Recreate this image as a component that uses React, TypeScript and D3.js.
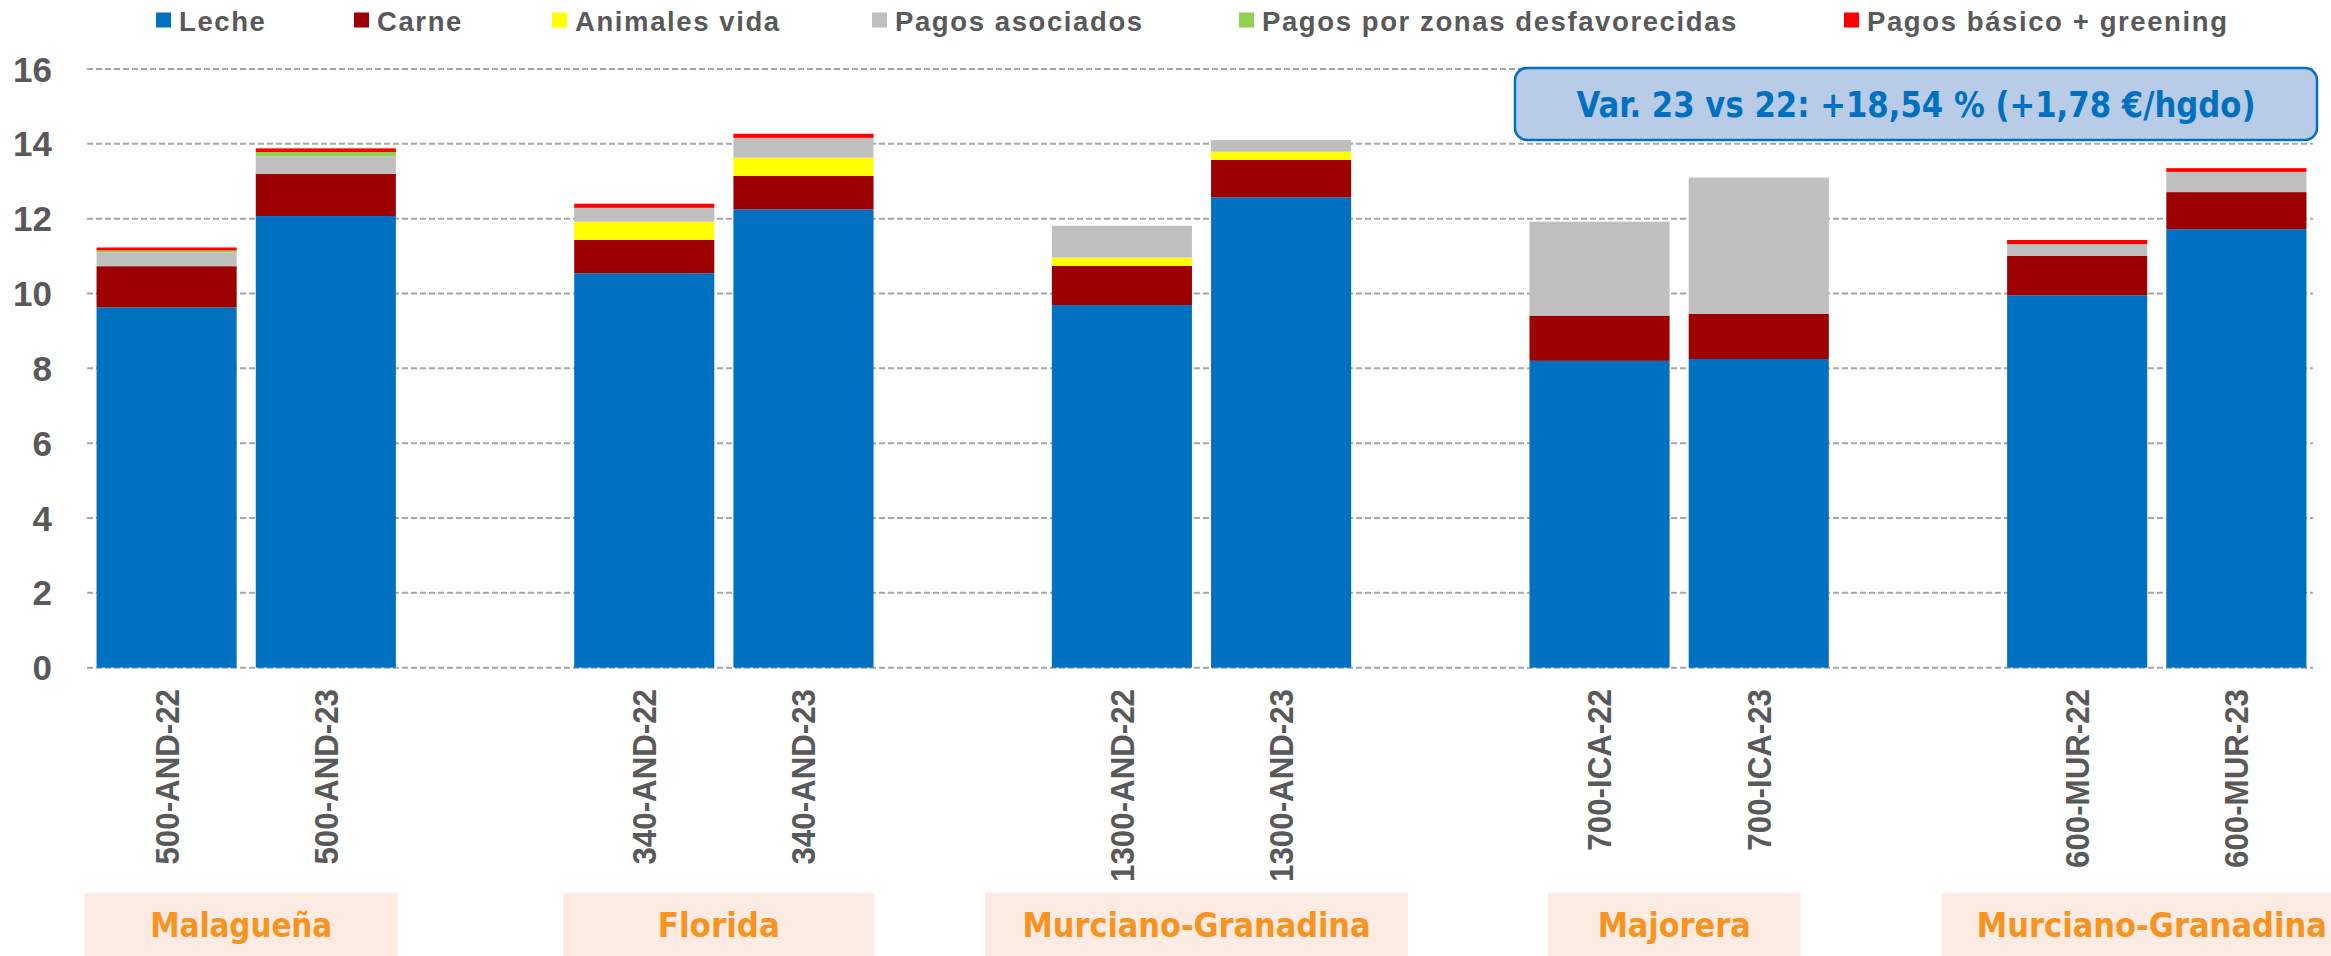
import React from "react";
import * as d3 from "d3";

// ---- data ----
const categories = [
  "500-AND-22", "500-AND-23",
  "340-AND-22", "340-AND-23",
  "1300-AND-22", "1300-AND-23",
  "700-ICA-22", "700-ICA-23",
  "600-MUR-22", "600-MUR-23",
];
const groups = ["Malagueña", "Florida", "Murciano-Granadina", "Majorera", "Murciano-Granadina"];

const seriesNames = [
  "Leche", "Carne", "Animales vida", "Pagos asociados",
  "Pagos por zonas desfavorecidas", "Pagos básico + greening",
];
const leche = [9.63, 12.07, 10.54, 12.25, 9.69, 12.57, 8.2, 8.25, 9.95, 11.72];
const carne = [1.1, 1.13, 0.89, 0.89, 1.05, 1.0, 1.21, 1.21, 1.06, 0.99];
const animalesVida = [0, 0, 0.49, 0.49, 0.22, 0.22, 0, 0, 0, 0];
const pagosAsociados = [0.37, 0.47, 0.37, 0.53, 0.85, 0.31, 2.51, 3.64, 0.31, 0.54];
const pagosZonas = [0.05, 0.11, 0, 0, 0, 0, 0, 0, 0, 0];
const pagosBasico = [0.08, 0.1, 0.11, 0.11, 0, 0, 0, 0, 0.11, 0.1];

const yTicks = [0, 2, 4, 6, 8, 10, 12, 14, 16];
const annotation = "Var. 23 vs 22: +18,54 % (+1,78 €/hgdo)";

// ---- styles ----
const colors = ["#0070C0", "#9C0000", "#FFFF00", "#BFBFBF", "#92D050", "#FF0000"];
const legendX = [156, 354, 552, 872, 1239, 1844];
const groupBoxWidths = [313, 311, 423, 253, 420];
const groupTextWidths = [182, 122, 348, 153, 350];
const GREY = "#595959";

export default function App() {
  const W = 2331, H = 956;
  const seriesValues = [leche, carne, animalesVida, pagosAsociados, pagosZonas, pagosBasico];
  const table = categories.map((c, i) => {
    const row: any = { cat: c };
    seriesNames.forEach((s, k) => (row[s] = seriesValues[k][i]));
    return row;
  });
  const stacked = d3.stack().keys(seriesNames)(table);

  // 14 slots: two bars per group plus an empty slot between groups
  const slotOf = (i: number) => i + Math.floor(i / 2);
  const slotKeys = d3.range(categories.length + groups.length - 1).map(String);
  const x = d3.scaleBand().domain(slotKeys).range([87, 2316]).paddingInner(0.12).paddingOuter(0.06);
  const y = d3.scaleLinear().domain([0, 16]).range([667.7, 69]);
  const bx = (i: number) => x(String(slotOf(i))) as number;
  const bw = x.bandwidth();

  return (
    <svg width={W} height={H} style={{ position: "absolute", left: 0, top: 0, background: "#fff" }}
      fontFamily="'Liberation Sans', Arial, sans-serif">
      {/* legend */}
      {seriesNames.map((s, k) => (
        <g key={s}>
          <rect x={legendX[k]} y={12.5} width={15} height={15} fill={colors[k]} />
          <text x={legendX[k] + 23} y={30.5} fontSize={27.5} fontWeight="bold" fill={GREY} letterSpacing={1.6}>{s}</text>
        </g>
      ))}

      {/* gridlines */}
      {yTicks.map((t) => (
        <line key={t} x1={87} x2={2313} y1={y(t)} y2={y(t)} stroke="#A6A6A6" strokeWidth={2} strokeDasharray="6,3" />
      ))}
      {yTicks.map((t) => (
        <text key={"l" + t} x={52} y={y(t)} dy="0.36em" textAnchor="end" fontSize={35} fontWeight="bold" fill={GREY}>{t}</text>
      ))}

      {/* bars */}
      {stacked.map((layer, k) => (
        <g key={layer.key} fill={colors[k]}>
          {layer.map((d, i) => {
            const h = y(d[0]) - y(d[1]);
            if (h <= 0) return null;
            return <rect key={i} x={bx(i)} y={y(d[1])} width={bw} height={h} />;
          })}
        </g>
      ))}

      {/* category labels */}
      {categories.map((c, i) => (
        <text key={c} transform={`translate(${bx(i) + bw / 2},689) rotate(-90) scale(0.92,1)`} dy="0.35em" textAnchor="end"
          fontSize={34} fontWeight="bold" fill={GREY}>{c}</text>
      ))}

      {/* group boxes */}
      {groups.map((g, gi) => {
        const cx = (bx(gi * 2) + bx(gi * 2 + 1) + bw) / 2 - 5;
        return (
          <g key={gi}>
            <rect x={cx - groupBoxWidths[gi] / 2} y={893} width={groupBoxWidths[gi]} height={70} fill="#FBEBE2" />
            <text x={cx} y={937} textAnchor="middle" fontSize={34} fontWeight="bold" fill="#F7931E"
              fontFamily="'DejaVu Sans Condensed', 'DejaVu Sans', sans-serif"
              textLength={groupTextWidths[gi]} lengthAdjust="spacingAndGlyphs">{g}</text>
          </g>
        );
      })}

      {/* annotation */}
      <rect x={1515} y={68} width={802} height={72} rx={12} ry={12} fill="#B8CCE8" stroke="#0070C0" strokeWidth={2.5} />
      <text x={1916} y={117} textAnchor="middle" fontSize={35} fontWeight="bold" fill="#0070C0"
        fontFamily="'DejaVu Sans Condensed', 'DejaVu Sans', sans-serif"
        textLength={679} lengthAdjust="spacingAndGlyphs">{annotation}</text>
    </svg>
  );
}
